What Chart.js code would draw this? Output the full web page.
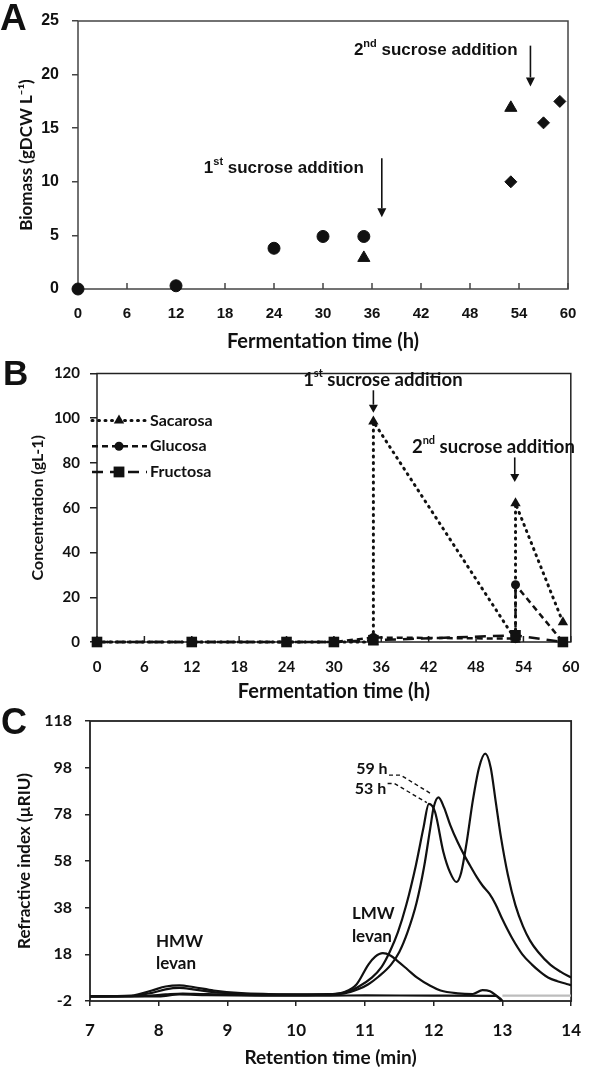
<!DOCTYPE html>
<html><head><meta charset="utf-8">
<script src="https://cdn.jsdelivr.net/npm/chart.js@4.4.1/dist/chart.umd.min.js"></script>
<style>
html,body{margin:0;padding:0;background:#fff;}
body{width:597px;height:1071px;position:relative;overflow:hidden;}
canvas{position:absolute;left:0;}
</style></head><body>
<canvas id="cA" width="597" height="356" style="top:0px"></canvas>
<canvas id="cB" width="597" height="348" style="top:356px"></canvas>
<canvas id="cC" width="597" height="371" style="top:700px"></canvas>
<script>
// ---------- Panel A: biomass ----------
const biomassCircleX = [0, 12, 24, 30, 35];
const biomassCircleY = [0, 0.3, 3.8, 4.9, 4.9];
const biomassTriangleX = [35, 53];
const biomassTriangleY = [2.9, 16.9];
const biomassDiamondX = [53, 57, 59];
const biomassDiamondY = [10, 15.5, 17.5];

// ---------- Panel B: sugars ----------
const sacarosaX = [0, 12, 24, 30, 35, 35, 53, 53, 59];
const sacarosaY = [0, 0, 0, 0, 0, 98.5, 1, 62, 8.8];
const glucosaX = [0, 12, 24, 30, 35, 53, 53, 59];
const glucosaY = [0, 0, 0, 0, 2, 1.5, 25.6, 0];
const fructosaX = [0, 12, 24, 30, 35, 53, 59];
const fructosaY = [0, 0, 0, 0, 0.8, 3, 0];
const sugarNames = ['Sacarosa', 'Glucosa', 'Fructosa'];

// ---------- Panel C: chromatograms ----------
const rt53 = [7, 7.6, 7.9, 8.1, 8.3, 8.5, 8.8, 9.2, 9.6, 10.0, 10.4, 10.7, 10.9, 11.1, 11.24, 11.36, 11.48, 11.6, 11.74, 11.85, 11.93, 12.02, 12.14, 12.24, 12.33, 12.4, 12.48, 12.57, 12.66, 12.75, 12.83, 12.9, 12.98, 13.08, 13.19, 13.3, 13.4, 13.52, 13.7, 13.85, 14];
const ri53 = [0, 0.1, 1.5, 3, 3.6, 3, 1.8, 1.1, 0.8, 0.7, 0.8, 1.5, 4, 8, 12.5, 19, 27.5, 39, 56, 72, 82.5, 79, 62, 53, 49, 53, 66, 84, 98, 104, 98, 84, 68, 52, 39, 30, 24, 19, 13.5, 10.5, 8];
const rt59 = [7, 7.6, 7.9, 8.1, 8.3, 8.5, 8.8, 9.2, 9.6, 10.0, 10.4, 10.7, 10.9, 11.05, 11.2, 11.38, 11.5, 11.62, 11.75, 11.86, 11.95, 12.0, 12.07, 12.15, 12.24, 12.35, 12.45, 12.55, 12.63, 12.71, 12.81, 12.9, 13.0, 13.14, 13.29, 13.43, 13.55, 13.67, 13.8, 13.95, 14];
const ri59 = [0, 0.3, 2.5, 4.2, 4.7, 4.0, 2.5, 1.4, 1.0, 0.8, 0.9, 1.3, 3, 5.2, 8.5, 13.6, 19, 27.5, 40, 55.4, 72, 81, 85.3, 81, 73.5, 66, 60.2, 55, 51, 47.5, 44, 39.5, 33, 25, 18, 13.6, 10.5, 8, 6.5, 5.2, 4.8];
const rtLMW = [7, 7.8, 8.1, 8.35, 8.6, 9.0, 9.5, 10.0, 10.5, 10.7, 10.88, 11.05, 11.15, 11.26, 11.37, 11.48, 11.62, 11.76, 11.95, 12.1, 12.35, 12.57, 12.71, 12.82, 12.9, 12.96, 13.0];
const riLMW = [0, 0.2, 0.8, 1.2, 1.0, 0.7, 0.5, 0.5, 0.8, 1.8, 5.2, 13.6, 17, 18.5, 17.5, 15, 11.5, 8, 4.5, 2.5, 1.3, 1.0, 2.7, 2.2, 0.6, -1, -2];
const rtBase = [7, 8, 8.3, 8.7, 9.5, 10.5, 11, 12, 12.9, 12.97, 13.0];
const riBase = [0, 0, 0.8, 0.5, 0.3, 0.3, 0.4, 0.3, 0.2, -1, -2];
const rtGray = [13, 14];
const riGray = [0.3, 0.3];
const riTicks = [-2, 18, 38, 58, 78, 98, 118];

const pts = (xs, ys) => xs.map((x, i) => ({x, y: ys[i]}));
const LATO = 'Lato, "Open Sans", sans-serif';
const ARIAL = '"Liberation Sans", Arial, sans-serif';
const INK = '#111';

function supText(ctx, parts, cx, cy, size, family, align) {
  const main = `bold ${size}px ${family}`, sup = `bold ${Math.round(size * 0.62)}px ${family}`;
  let w = 0;
  parts.forEach(p => { ctx.font = p[1] ? sup : main; w += ctx.measureText(p[0]).width; });
  let x = align === 'center' ? cx - w / 2 : cx;
  ctx.textAlign = 'left'; ctx.textBaseline = 'middle';
  parts.forEach(p => {
    ctx.font = p[1] ? sup : main;
    ctx.fillText(p[0], x, p[1] ? cy - size * 0.33 : cy);
    x += ctx.measureText(p[0]).width;
  });
}
function arrow(ctx, x, y1, y2, hw, hl) {
  ctx.beginPath(); ctx.moveTo(x, y1); ctx.lineTo(x, y2 - hl); ctx.stroke();
  ctx.beginPath(); ctx.moveTo(x - hw, y2 - hl); ctx.lineTo(x + hw, y2 - hl); ctx.lineTo(x, y2); ctx.closePath(); ctx.fill();
}
function marker(ctx, style, x, y, r) {
  ctx.beginPath();
  if (style === 'circle') ctx.arc(x, y, r, 0, Math.PI * 2);
  else if (style === 'triangle') { ctx.moveTo(x, y - r); ctx.lineTo(x + r * 0.87, y + r * 0.5); ctx.lineTo(x - r * 0.87, y + r * 0.5); ctx.closePath(); }
  else if (style === 'rect') { const s = r * 0.72; ctx.rect(x - s, y - s, 2 * s, 2 * s); }
  ctx.fill();
}

const framePlugin = {
  id: 'frame',
  beforeDatasetsDraw(chart, args, o) {
    const {ctx, chartArea: a} = chart;
    ctx.save();
    ctx.strokeStyle = o.color; ctx.lineWidth = o.width; ctx.setLineDash([]);
    ctx.strokeRect(a.left, a.top, a.right - a.left, a.bottom - a.top);
    if (o.innerTicks) {
      const xs = chart.scales.x;
      xs.ticks.forEach(t => {
        const px = xs.getPixelForValue(t.value);
        ctx.beginPath(); ctx.moveTo(px, a.bottom); ctx.lineTo(px, a.bottom - o.innerTicks); ctx.stroke();
      });
    }
    ctx.fillStyle = INK; ctx.textAlign = 'left'; ctx.textBaseline = 'alphabetic';
    ctx.font = `bold ${o.letterSize}px ${ARIAL}`;
    ctx.fillText(o.letter, o.letterX, o.letterY);
    ctx.restore();
  }
};

const noLegend = {legend: {display: false}, tooltip: {enabled: false}};
const base = {responsive: false, animation: false, devicePixelRatio: 1};

// ===== Chart A =====
new Chart(document.getElementById('cA'), {
  type: 'scatter',
  data: {datasets: [
    {data: pts(biomassCircleX, biomassCircleY), clip: false, pointStyle: 'circle', pointRadius: 6, backgroundColor: INK, borderColor: INK, borderWidth: 1},
    {data: pts(biomassTriangleX, biomassTriangleY), clip: false, pointStyle: 'triangle', pointRadius: 7, backgroundColor: INK, borderColor: INK, borderWidth: 1},
    {data: pts(biomassDiamondX, biomassDiamondY), clip: false, pointStyle: 'rectRot', pointRadius: 6, backgroundColor: INK, borderColor: INK, borderWidth: 1}
  ]},
  options: {...base,
    layout: {padding: {top: 15, right: 29, left: 0, bottom: 0}},
    plugins: {...noLegend, frame: {color: '#444', width: 1.5, innerTicks: 6, letter: 'A', letterSize: 37, letterX: 0, letterY: 30}},
    scales: {
      x: {type: 'linear', min: 0, max: 60,
        ticks: {stepSize: 6, autoSkip: false, maxRotation: 0, padding: 17.5, color: INK, font: {family: ARIAL, size: 15, weight: 'bold', lineHeight: 1}},
        grid: {display: true, drawOnChartArea: false, drawTicks: false}, border: {display: false},
        title: {display: true, text: 'Fermentation time (h)', color: INK, font: {family: LATO, size: 20, weight: 'bold', lineHeight: 1}, padding: {top: 0, bottom: 4}},
        afterFit: s => { s.height = 67; }},
      y: {min: 0, max: 25,
        ticks: {stepSize: 5, padding: 13, color: INK, font: {family: ARIAL, size: 16, weight: 'bold', lineHeight: 1}},
        grid: {display: true, drawOnChartArea: false, drawTicks: true, tickLength: 6, color: '#444', lineWidth: 1.5}, border: {display: false},
        title: {display: true, text: 'Biomass (gDCW L⁻¹)', color: INK, font: {family: LATO, size: 17, weight: 'bold', lineHeight: 1}, padding: {top: 18.5, bottom: 0}},
        afterFit: s => { s.width = 78; }}
    }
  },
  plugins: [framePlugin, {
    id: 'annA',
    afterDatasetsDraw(chart) {
      const {ctx, scales: {x, y}} = chart;
      ctx.save(); ctx.fillStyle = INK; ctx.strokeStyle = INK; ctx.lineWidth = 1.6;
      supText(ctx, [['1', false], ['st', true], [' sucrose addition', false]], x.getPixelForValue(25.2), y.getPixelForValue(11.3), 17, ARIAL, 'center');
      supText(ctx, [['2', false], ['nd', true], [' sucrose addition', false]], x.getPixelForValue(43.8), y.getPixelForValue(22.3), 17, ARIAL, 'center');
      arrow(ctx, x.getPixelForValue(37.2), y.getPixelForValue(12.2), y.getPixelForValue(6.7), 4.5, 9);
      arrow(ctx, x.getPixelForValue(55.4), y.getPixelForValue(22.7), y.getPixelForValue(18.9), 4.5, 9);
      ctx.restore();
    }
  }]
});

// ===== Chart B =====
const sugarStyles = [
  {pointStyle: 'triangle', pointRadius: 6, borderDash: [1, 5.5], borderWidth: 3, borderCapStyle: 'round'},
  {pointStyle: 'circle', pointRadius: 4.5, borderDash: [6, 4], borderWidth: 2.5, borderCapStyle: 'butt'},
  {pointStyle: 'rect', pointRadius: 7.5, borderDash: [11, 7], borderWidth: 2.5, borderCapStyle: 'butt'}
];
const sugarData = [pts(sacarosaX, sacarosaY), pts(glucosaX, glucosaY), pts(fructosaX, fructosaY)];
new Chart(document.getElementById('cB'), {
  type: 'line',
  data: {datasets: sugarData.map((d, i) => ({
    label: sugarNames[i], data: d, order: 2 - i, showLine: true, tension: 0, clip: false,
    borderColor: INK, backgroundColor: INK, pointBackgroundColor: INK, pointBorderColor: INK, pointBorderWidth: 0,
    ...sugarStyles[i]
  }))},
  options: {...base,
    layout: {padding: {top: 11, right: 9, left: 0, bottom: 0}},
    plugins: {...noLegend, frame: {color: '#222', width: 1.5, innerTicks: 6, letter: 'B', letterSize: 35, letterX: 3, letterY: 29}},
    scales: {
      x: {type: 'linear', min: 0, max: 60,
        ticks: {stepSize: 6, autoSkip: false, maxRotation: 0, padding: 17.5, color: INK, font: {family: LATO, size: 15, weight: 'bold', lineHeight: 1}},
        grid: {display: true, drawOnChartArea: false, drawTicks: false}, border: {display: false},
        title: {display: true, text: 'Fermentation time (h)', color: INK, font: {family: LATO, size: 20, weight: 'bold', lineHeight: 1}, padding: {top: 0, bottom: 2}},
        afterFit: s => { s.height = 62; }},
      y: {min: 0, max: 120,
        ticks: {stepSize: 20, padding: 10, color: INK, font: {family: LATO, size: 15, weight: 'bold', lineHeight: 1}},
        grid: {display: true, drawOnChartArea: false, drawTicks: true, tickLength: 7, color: '#222', lineWidth: 1.5}, border: {display: false},
        title: {display: true, text: 'Concentration (gL-1)', color: INK, font: {family: LATO, size: 16, weight: 'bold', lineHeight: 1}, padding: {top: 30, bottom: 0}},
        afterFit: s => { s.width = 97; }}
    }
  },
  plugins: [framePlugin, {
    id: 'annB',
    afterDatasetsDraw(chart) {
      const {ctx, chartArea: a, scales: {x, y}} = chart;
      ctx.save(); ctx.fillStyle = INK; ctx.strokeStyle = INK; ctx.lineWidth = 1.6;
      supText(ctx, [['1', false], ['st', true], [' sucrose addition', false]], x.getPixelForValue(36.2), y.getPixelForValue(117.3), 18.5, LATO, 'center');
      supText(ctx, [['2', false], ['nd', true], [' sucrose addition', false]], x.getPixelForValue(50.2), y.getPixelForValue(87.3), 18.5, LATO, 'center');
      arrow(ctx, x.getPixelForValue(35), y.getPixelForValue(112.5), y.getPixelForValue(102.5), 4.5, 8);
      arrow(ctx, x.getPixelForValue(52.9), y.getPixelForValue(82.5), y.getPixelForValue(71.5), 4.5, 8);
      // legend
      const rows = [99, 87.5, 76];
      chart.data.datasets.forEach((ds, i) => {
        const py = y.getPixelForValue(rows[i]);
        ctx.save();
        ctx.lineWidth = ds.borderWidth; ctx.lineCap = ds.borderCapStyle; ctx.setLineDash(ds.borderDash);
        ctx.beginPath(); ctx.moveTo(a.left - 5, py); ctx.lineTo(a.left + 50, py); ctx.stroke();
        ctx.setLineDash([]);
        marker(ctx, ds.pointStyle, a.left + 22, py, ds.pointRadius);
        ctx.restore();
        ctx.font = `bold 16px ${LATO}`; ctx.textAlign = 'left'; ctx.textBaseline = 'middle';
        ctx.fillText(ds.label, a.left + 53, py);
      });
      ctx.restore();
    }
  }]
});

// ===== Chart C =====
const curve = (xs, ys, color) => ({data: pts(xs, ys), borderColor: color, borderWidth: 2.2, pointRadius: 0, cubicInterpolationMode: 'monotone', fill: false});
new Chart(document.getElementById('cC'), {
  type: 'line',
  data: {datasets: [
    curve(rtGray, riGray, '#bdbdbd'),
    curve(rtBase, riBase, INK),
    curve(rtLMW, riLMW, INK),
    curve(rt53, ri53, INK),
    curve(rt59, ri59, INK)
  ]},
  options: {...base,
    layout: {padding: {top: 17, right: 17, left: 0, bottom: 0}},
    plugins: {...noLegend, frame: {color: '#222', width: 1.8, innerTicks: 0, letter: 'C', letterSize: 36, letterX: 1, letterY: 34}},
    scales: {
      x: {type: 'linear', min: 7, max: 14,
        ticks: {stepSize: 1, autoSkip: false, maxRotation: 0, padding: 16, color: INK, font: {family: LATO, size: 17, weight: 'bold', lineHeight: 1}},
        grid: {display: true, drawOnChartArea: false, drawTicks: true, tickLength: 5, color: '#222', lineWidth: 1.5}, border: {display: false},
        title: {display: true, text: 'Retention time (min)', color: INK, font: {family: LATO, size: 19, weight: 'bold', lineHeight: 1}, padding: {top: 0, bottom: 3.5}},
        afterFit: s => { s.height = 70; }},
      y: {min: -2, max: 118,
        afterBuildTicks: s => { s.ticks = riTicks.map(v => ({value: v})); },
        ticks: {padding: 13, color: INK, font: {family: LATO, size: 16, weight: 'bold', lineHeight: 1}},
        grid: {display: true, drawOnChartArea: false, drawTicks: true, tickLength: 5, color: '#222', lineWidth: 1.5}, border: {display: false},
        title: {display: true, text: 'Refractive index (µRIU)', color: INK, font: {family: LATO, size: 17, weight: 'bold', lineHeight: 1}, padding: {top: 16.5, bottom: 0}},
        afterFit: s => { s.width = 90; }}
    }
  },
  plugins: [framePlugin, {
    id: 'annC',
    afterDatasetsDraw(chart) {
      const {ctx, scales: {x, y}} = chart;
      ctx.save(); ctx.fillStyle = INK; ctx.strokeStyle = INK;
      ctx.font = `bold 17px ${LATO}`; ctx.textAlign = 'left'; ctx.textBaseline = 'middle';
      ctx.fillText('HMW', x.getPixelForValue(7.96), y.getPixelForValue(23.7));
      ctx.fillText('levan', x.getPixelForValue(7.96), y.getPixelForValue(14));
      ctx.fillText('LMW', x.getPixelForValue(10.81), y.getPixelForValue(35.7));
      ctx.fillText('levan', x.getPixelForValue(10.81), y.getPixelForValue(25.8));
      ctx.font = `bold 16px ${LATO}`; ctx.textAlign = 'right';
      ctx.fillText('59 h', x.getPixelForValue(11.33), y.getPixelForValue(97.6));
      ctx.fillText('53 h', x.getPixelForValue(11.31), y.getPixelForValue(89.1));
      ctx.lineWidth = 1.4; ctx.setLineDash([4, 3]);
      ctx.beginPath();
      ctx.moveTo(x.getPixelForValue(11.35), y.getPixelForValue(94.8));
      ctx.lineTo(x.getPixelForValue(11.52), y.getPixelForValue(94.8));
      ctx.lineTo(x.getPixelForValue(11.98), y.getPixelForValue(86.5));
      ctx.stroke();
      ctx.beginPath();
      ctx.moveTo(x.getPixelForValue(11.33), y.getPixelForValue(91.2));
      ctx.lineTo(x.getPixelForValue(11.43), y.getPixelForValue(91.2));
      ctx.lineTo(x.getPixelForValue(11.9), y.getPixelForValue(83));
      ctx.stroke();
      ctx.restore();
    }
  }]
});
</script>
</body></html>
